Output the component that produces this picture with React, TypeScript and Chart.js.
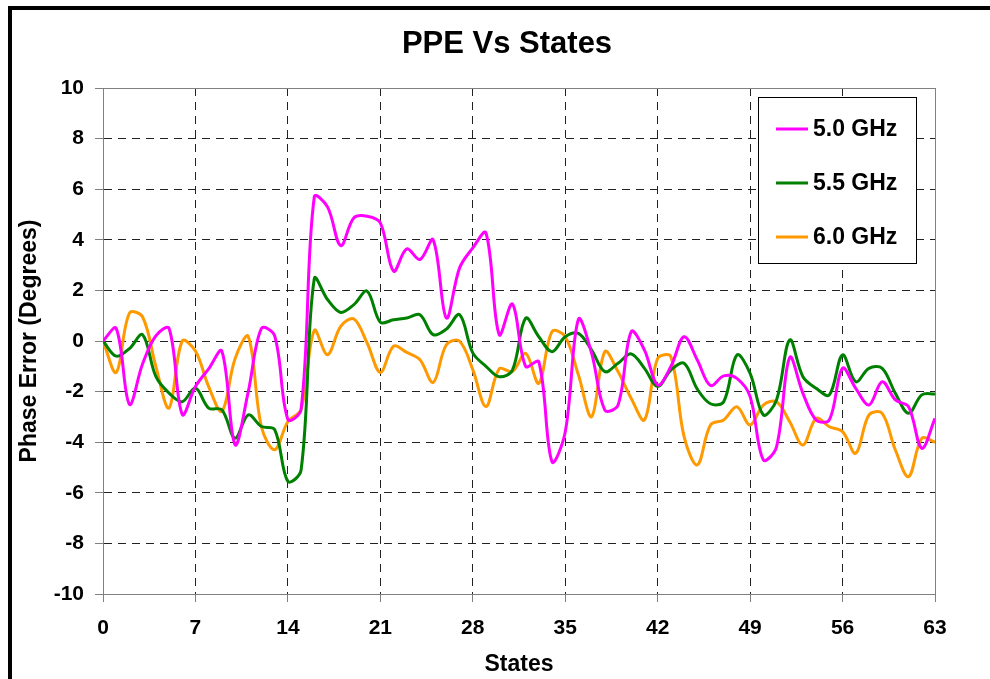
import React, { useEffect, useRef } from "react";
import { Chart, registerables } from "chart.js";

Chart.register(...registerables);

const states: number[] = Array.from({ length: 64 }, (_, i) => i);

const ghz50: number[] = [
  0, 0.5, -2.5, -0.9, 0.2, 0.5, -2.9, -1.8, -1.1, -0.4,
  -4.1, -2.0, 0.5, 0.2, -3.1, -2.7, 5.7, 5.3, 3.77, 4.87,
  4.93, 4.67, 2.76, 3.64, 3.22, 4.0, 0.91, 2.89, 3.68, 4.27,
  0.25, 1.46, -1.0, -0.82, -4.77, -3.6, 0.86, -0.49, -2.73, -2.53,
  0.37, -0.36, -1.74, -1.01, 0.17, -0.75, -1.76, -1.38, -1.48, -2.2,
  -4.7, -4.18, -0.65, -2.07, -3.12, -3.12, -1.08, -1.87, -2.53, -1.61,
  -2.33, -2.6, -4.24, -3.06,
];

const ghz55: number[] = [
  0, -0.6, -0.3, 0.25, -1.4, -2.06, -2.4, -1.86, -2.65, -2.72,
  -3.84, -2.92, -3.38, -3.5, -5.55, -5.1, 2.47, 1.64, 1.13, 1.44,
  1.97, 0.74, 0.84, 0.91, 1.04, 0.25, 0.47, 1.04, -0.47, -1.0,
  -1.41, -1.15, 0.9, 0.17, -0.42, 0.17, 0.3, -0.36, -1.21, -0.88,
  -0.51, -1.08, -1.8, -1.15, -0.88, -1.9, -2.48, -2.4, -0.55, -1.28,
  -2.92, -2.33, 0.04, -1.41, -1.87, -2.13, -0.55, -1.61, -1.08, -1.08,
  -2.07, -2.86, -2.13, -2.09,
];

const ghz60: number[] = [
  0, -1.24, 1.1, 0.95, -1.0, -2.65, 0.0, -0.4, -1.8, -2.78,
  -0.7, 0.18, -3.4, -4.3, -3.18, -2.7, 0.42, -0.54, 0.58, 0.87,
  -0.08, -1.24, -0.21, -0.45, -0.74, -1.64, -0.15, -0.01, -1.13, -2.59,
  -1.1, -1.21, -0.49, -1.67, 0.37, 0.17, -1.34, -2.99, -0.42, -1.21,
  -2.27, -3.12, -0.69, -0.62, -3.78, -4.9, -3.32, -3.12, -2.6, -3.32,
  -2.53, -2.4, -3.19, -4.11, -3.06, -3.39, -3.58, -4.44, -2.92, -2.86,
  -4.31, -5.36, -3.85, -4.0,
];

const seriesLabels: string[] = ["5.0 GHz", "5.5 GHz", "6.0 GHz"];
const seriesColors: string[] = ["#FF00FF", "#008000", "#FF9900"];
const titleText = "PPE Vs States";
const xTitle = "States";
const yTitle = "Phase Error (Degrees)";
const xMin = 0, xMax = 63, xStep = 7;
const yMin = -10, yMax = 10, yStep = 2;

const FONT = "'Liberation Sans', Arial, Helvetica, sans-serif";

const decorPlugin = {
  id: "decor",
  beforeDraw(chart: any) {
    const ctx = chart.ctx;
    ctx.save();
    ctx.fillStyle = "#fff";
    ctx.fillRect(0, 0, chart.width, chart.height);
    ctx.strokeStyle = "#000";
    ctx.lineWidth = 4;
    ctx.strokeRect(10, 8, chart.width + 50, chart.height + 50);
    ctx.restore();
  },
  beforeDatasetsDraw(chart: any) {
    const { ctx, chartArea: a } = chart;
    ctx.save();
    ctx.strokeStyle = "#808080";
    ctx.lineWidth = 1;
    ctx.setLineDash([]);
    ctx.strokeRect(Math.round(a.left) + 0.5, Math.round(a.top) + 0.5, Math.round(a.right - a.left), Math.round(a.bottom - a.top));
    ctx.restore();
  },
  afterDraw(chart: any) {
    const { ctx, chartArea: a } = chart;
    ctx.save();
    ctx.fillStyle = "#000";
    ctx.textAlign = "center";
    ctx.textBaseline = "middle";
    ctx.font = `bold 31px ${FONT}`;
    ctx.fillText(titleText, 507, 44);
    ctx.font = `bold 23px ${FONT}`;
    ctx.fillText(xTitle, (a.left + a.right) / 2, 665);
    ctx.save();
    ctx.translate(30, (a.top + a.bottom) / 2);
    ctx.rotate(-Math.PI / 2);
    ctx.fillText(yTitle, 0, 0);
    ctx.restore();

    // legend
    const lx = 758, ly = 97, lw = 158, lh = 166;
    ctx.fillStyle = "#fff";
    ctx.fillRect(lx, ly, lw, lh);
    ctx.strokeStyle = "#000";
    ctx.lineWidth = 1;
    ctx.strokeRect(lx + 0.5, ly + 0.5, lw, lh);
    const rows = [129, 183, 237];
    chart.data.datasets.forEach((ds: any, i: number) => {
      const y = rows[i];
      ctx.strokeStyle = ds.borderColor;
      ctx.lineWidth = 3;
      ctx.beginPath();
      ctx.moveTo(776, y);
      ctx.lineTo(808, y);
      ctx.stroke();
      ctx.fillStyle = "#000";
      ctx.textAlign = "left";
      ctx.font = `bold 23px ${FONT}`;
      ctx.fillText(ds.label, 813, y + 1);
    });
    ctx.restore();
  },
};

export default function App() {
  const ref = useRef<HTMLCanvasElement | null>(null);
  useEffect(() => {
    if (!ref.current) return;
    const series = [ghz50, ghz55, ghz60];
    const chart = new Chart(ref.current, {
      type: "line",
      data: {
        datasets: series.map((vals, i) => ({
          label: seriesLabels[i],
          data: states.map((s, j) => ({ x: s, y: vals[j] })),
          borderColor: seriesColors[i],
          backgroundColor: seriesColors[i],
          borderWidth: 3,
          pointRadius: 0,
          tension: 0.35,
          fill: false,
        })),
      },
      options: {
        responsive: false,
        animation: false,
        layout: { padding: { top: 88, right: 55, left: 0, bottom: 0 } },
        plugins: {
          legend: { display: false },
          title: { display: false },
          tooltip: { enabled: false },
        },
        scales: {
          x: {
            type: "linear",
            min: xMin,
            max: xMax,
            afterFit: (s: any) => { s.height = 85; },
            ticks: {
              stepSize: xStep,
              color: "#000",
              font: { family: FONT, size: 21, weight: "bold" },
              padding: 14,
              maxRotation: 0,
            },
            grid: {
              color: "#222",
              lineWidth: 1,
              tickLength: 8,
              tickColor: "#808080",
              tickBorderDash: [],
            },
            border: { display: true, color: "#808080", dash: [8, 6] },
          },
          y: {
            min: yMin,
            max: yMax,
            afterFit: (s: any) => { s.width = 103; },
            ticks: {
              stepSize: yStep,
              color: "#000",
              font: { family: FONT, size: 21, weight: "bold" },
              padding: 11,
            },
            grid: {
              color: "#222",
              lineWidth: 1,
              tickLength: 8,
              tickColor: "#808080",
              tickBorderDash: [],
            },
            border: { display: true, color: "#808080", dash: [8, 6] },
          },
        },
      },
      plugins: [decorPlugin],
    });
    return () => chart.destroy();
  }, []);
  return (
    <div style={{ position: "absolute", left: 0, top: 0, width: 990, height: 679, background: "#fff" }}>
      <canvas ref={ref} width={990} height={679} style={{ display: "block" }} />
    </div>
  );
}
